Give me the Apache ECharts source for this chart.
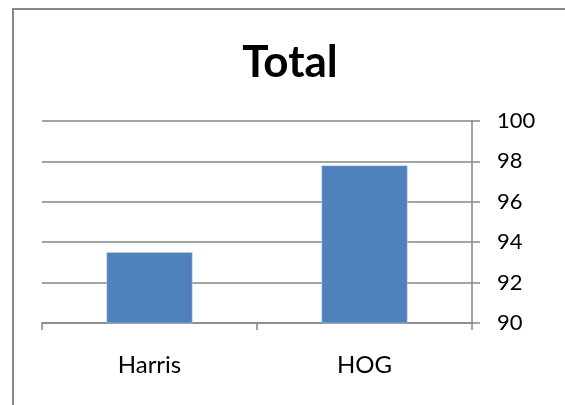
<!DOCTYPE html>
<html><head><meta charset="utf-8">
<script src="https://cdn.jsdelivr.net/npm/echarts@6/dist/echarts.min.js"></script>
<style>html,body{margin:0;padding:0;background:#fff}#c{width:565px;height:405px}</style>
</head><body><div id="c"></div>
<script>
const categories = ["Harris", "HOG"];
const values = [93.5, 97.8];
const yMin = 90, yMax = 100, yStep = 2;
const titleText = "Total";

const chart = echarts.init(document.getElementById('c'), null, {renderer: 'canvas'});
const FONT = 'Lato, "Open Sans", sans-serif';
chart.setOption({
  animation: false,
  backgroundColor: '#fff',
  title: {
    text: titleText, left: 285, textAlign: 'center', top: 36,
    textStyle: {fontFamily: FONT, fontWeight: 'bold', fontSize: 44, color: '#000'}
  },
  graphic: [{
    type: 'rect', shape: {x: 13, y: 9, width: 700, height: 500},
    style: {fill: 'none', stroke: '#888', lineWidth: 2}, silent: true
  }],
  grid: {left: 42, right: 93, top: 121, bottom: 82},
  xAxis: {
    type: 'category', data: categories,
    axisLine: {lineStyle: {color: '#868686', width: 1.5}},
    axisTick: {show: true, length: 7, lineStyle: {color: '#868686', width: 1.5}},
    axisLabel: {fontFamily: FONT, fontSize: 24, color: '#000', margin: 30}
  },
  yAxis: {
    type: 'value', position: 'right', min: yMin, max: yMax, interval: yStep,
    axisLine: {show: true, lineStyle: {color: '#868686', width: 1.5}},
    axisTick: {show: true, length: 8, lineStyle: {color: '#868686', width: 1.5}},
    axisLabel: {fontFamily: FONT, fontSize: 22, color: '#000', margin: 25},
    splitLine: {lineStyle: {color: '#868686', width: 1.5}}
  },
  series: [{
    type: 'bar', data: values, barWidth: '40%',
    itemStyle: {color: '#4f81bd', borderColor: '#c9d6ea', borderWidth: 0.5}
  }]
});
</script></body></html>
